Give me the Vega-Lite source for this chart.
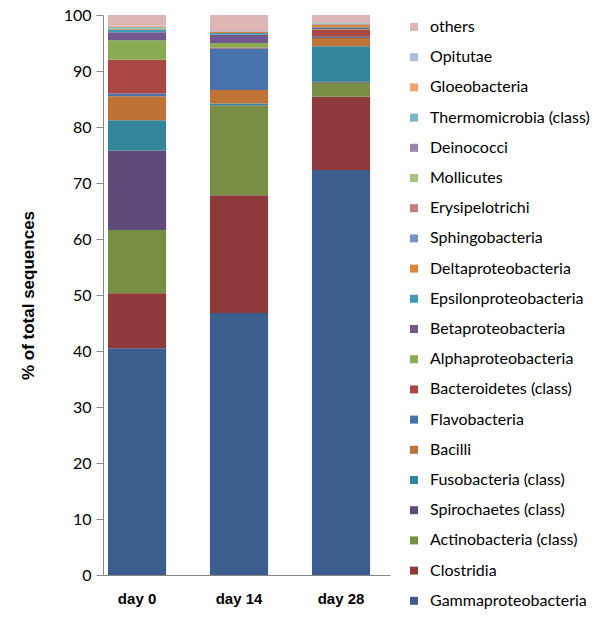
{
  "$schema": "https://vega.github.io/schema/vega-lite/v6.json",
  "autosize": {"type": "none"},
  "width": 287,
  "height": 560,
  "padding": {"left": 103, "top": 15, "right": 210, "bottom": 46},
  "background": "white",
  "config": {"view": {"stroke": null}, "font": "Lato"},
  "data": {"values": [
    {"day": "day 0", "taxon": "Gammaproteobacteria", "idx": 0, "pct": 40.5},
    {"day": "day 0", "taxon": "Clostridia", "idx": 1, "pct": 9.8},
    {"day": "day 0", "taxon": "Actinobacteria (class)", "idx": 2, "pct": 11.3},
    {"day": "day 0", "taxon": "Spirochaetes (class)", "idx": 3, "pct": 14.2},
    {"day": "day 0", "taxon": "Fusobacteria (class)", "idx": 4, "pct": 5.4},
    {"day": "day 0", "taxon": "Bacilli", "idx": 5, "pct": 4.3},
    {"day": "day 0", "taxon": "Flavobacteria", "idx": 6, "pct": 0.5},
    {"day": "day 0", "taxon": "Bacteroidetes (class)", "idx": 7, "pct": 6.0},
    {"day": "day 0", "taxon": "Alphaproteobacteria", "idx": 8, "pct": 3.5},
    {"day": "day 0", "taxon": "Betaproteobacteria", "idx": 9, "pct": 1.4},
    {"day": "day 0", "taxon": "Epsilonproteobacteria", "idx": 10, "pct": 0.5},
    {"day": "day 0", "taxon": "Deltaproteobacteria", "idx": 11, "pct": 0.1},
    {"day": "day 0", "taxon": "Sphingobacteria", "idx": 12, "pct": 0.1},
    {"day": "day 0", "taxon": "Erysipelotrichi", "idx": 13, "pct": 0.0},
    {"day": "day 0", "taxon": "Mollicutes", "idx": 14, "pct": 0.1},
    {"day": "day 0", "taxon": "Deinococci", "idx": 15, "pct": 0.0},
    {"day": "day 0", "taxon": "Thermomicrobia (class)", "idx": 16, "pct": 0.2},
    {"day": "day 0", "taxon": "Gloeobacteria", "idx": 17, "pct": 0.2},
    {"day": "day 0", "taxon": "Opitutae", "idx": 18, "pct": 0.0},
    {"day": "day 0", "taxon": "others", "idx": 19, "pct": 1.9},
    {"day": "day 14", "taxon": "Gammaproteobacteria", "idx": 0, "pct": 46.8},
    {"day": "day 14", "taxon": "Clostridia", "idx": 1, "pct": 21.0},
    {"day": "day 14", "taxon": "Actinobacteria (class)", "idx": 2, "pct": 16.0},
    {"day": "day 14", "taxon": "Spirochaetes (class)", "idx": 3, "pct": 0.1},
    {"day": "day 14", "taxon": "Fusobacteria (class)", "idx": 4, "pct": 0.3},
    {"day": "day 14", "taxon": "Bacilli", "idx": 5, "pct": 2.4},
    {"day": "day 14", "taxon": "Flavobacteria", "idx": 6, "pct": 7.4},
    {"day": "day 14", "taxon": "Bacteroidetes (class)", "idx": 7, "pct": 0.2},
    {"day": "day 14", "taxon": "Alphaproteobacteria", "idx": 8, "pct": 0.8},
    {"day": "day 14", "taxon": "Betaproteobacteria", "idx": 9, "pct": 1.5},
    {"day": "day 14", "taxon": "Epsilonproteobacteria", "idx": 10, "pct": 0.3},
    {"day": "day 14", "taxon": "Deltaproteobacteria", "idx": 11, "pct": 0.2},
    {"day": "day 14", "taxon": "Sphingobacteria", "idx": 12, "pct": 0.1},
    {"day": "day 14", "taxon": "Erysipelotrichi", "idx": 13, "pct": 0.0},
    {"day": "day 14", "taxon": "Mollicutes", "idx": 14, "pct": 0.0},
    {"day": "day 14", "taxon": "Deinococci", "idx": 15, "pct": 0.0},
    {"day": "day 14", "taxon": "Thermomicrobia (class)", "idx": 16, "pct": 0.0},
    {"day": "day 14", "taxon": "Gloeobacteria", "idx": 17, "pct": 0.0},
    {"day": "day 14", "taxon": "Opitutae", "idx": 18, "pct": 0.0},
    {"day": "day 14", "taxon": "others", "idx": 19, "pct": 2.9},
    {"day": "day 28", "taxon": "Gammaproteobacteria", "idx": 0, "pct": 72.3},
    {"day": "day 28", "taxon": "Clostridia", "idx": 1, "pct": 13.1},
    {"day": "day 28", "taxon": "Actinobacteria (class)", "idx": 2, "pct": 2.5},
    {"day": "day 28", "taxon": "Spirochaetes (class)", "idx": 3, "pct": 0.2},
    {"day": "day 28", "taxon": "Fusobacteria (class)", "idx": 4, "pct": 6.3},
    {"day": "day 28", "taxon": "Bacilli", "idx": 5, "pct": 1.5},
    {"day": "day 28", "taxon": "Flavobacteria", "idx": 6, "pct": 0.2},
    {"day": "day 28", "taxon": "Bacteroidetes (class)", "idx": 7, "pct": 1.3},
    {"day": "day 28", "taxon": "Alphaproteobacteria", "idx": 8, "pct": 0.1},
    {"day": "day 28", "taxon": "Betaproteobacteria", "idx": 9, "pct": 0.2},
    {"day": "day 28", "taxon": "Epsilonproteobacteria", "idx": 10, "pct": 0.1},
    {"day": "day 28", "taxon": "Deltaproteobacteria", "idx": 11, "pct": 0.5},
    {"day": "day 28", "taxon": "Sphingobacteria", "idx": 12, "pct": 0.1},
    {"day": "day 28", "taxon": "Erysipelotrichi", "idx": 13, "pct": 0.0},
    {"day": "day 28", "taxon": "Mollicutes", "idx": 14, "pct": 0.1},
    {"day": "day 28", "taxon": "Deinococci", "idx": 15, "pct": 0.0},
    {"day": "day 28", "taxon": "Thermomicrobia (class)", "idx": 16, "pct": 0.1},
    {"day": "day 28", "taxon": "Gloeobacteria", "idx": 17, "pct": 0.0},
    {"day": "day 28", "taxon": "Opitutae", "idx": 18, "pct": 0.0},
    {"day": "day 28", "taxon": "others", "idx": 19, "pct": 1.4}
  ]},
  "mark": {"type": "bar"},
  "encoding": {
    "x": {
      "field": "day", "type": "nominal", "sort": ["day 0", "day 14", "day 28"],
      "scale": {"paddingInner": 0.43, "paddingOuter": 0.122, "align": 0.2},
      "axis": {"title": null, "labelAngle": 0, "ticks": false, "labelPadding": 16,
               "labelFontSize": 15, "labelFontWeight": "bold", "labelColor": "#000000",
               "domainColor": "#868686", "labelFont": "Liberation Sans"}
    },
    "y": {
      "field": "pct", "type": "quantitative", "stack": "zero",
      "scale": {"domain": [0, 100], "nice": false},
      "axis": {"title": "% of total sequences", "titleFontSize": 17, "titleFontWeight": "bold",
               "titleFont": "Liberation Sans", "titleColor": "#000000", "titlePadding": 26,
               "values": [0, 10, 20, 30, 40, 50, 60, 70, 80, 90, 100],
               "grid": false, "tickSize": 7, "tickColor": "#868686", "domainColor": "#868686",
               "labelFontSize": 16, "labelColor": "#000000", "labelPadding": 5}
    },
    "order": {"field": "idx", "type": "quantitative", "sort": "ascending"},
    "color": {
      "field": "taxon", "type": "nominal",
      "scale": {
        "domain": ["others", "Opitutae", "Gloeobacteria", "Thermomicrobia (class)", "Deinococci", "Mollicutes", "Erysipelotrichi", "Sphingobacteria", "Deltaproteobacteria", "Epsilonproteobacteria", "Betaproteobacteria", "Alphaproteobacteria", "Bacteroidetes (class)", "Flavobacteria", "Bacilli", "Fusobacteria (class)", "Spirochaetes (class)", "Actinobacteria (class)", "Clostridia", "Gammaproteobacteria"],
        "range": ["#DDB6B5", "#AFBCDD", "#F2A572", "#7BB8CB", "#9987B1", "#A9C27E", "#C87C7B", "#7796C7", "#DD843C", "#3F9AB2", "#72588F", "#8AAA53", "#AA4644", "#4773AA", "#BF7336", "#32859A", "#5F4B7A", "#778E44", "#8E3A3A", "#3C5E8F"]
      },
      "legend": {
        "title": null, "orient": "none", "legendX": 303, "legendY": 4,
        "symbolType": "square", "symbolSize": 64, "symbolStrokeWidth": 0,
        "labelFontSize": 16, "labelColor": "#000000", "labelOffset": 8,
        "rowPadding": 14.2, "labelLimit": 200
      }
    }
  }
}
